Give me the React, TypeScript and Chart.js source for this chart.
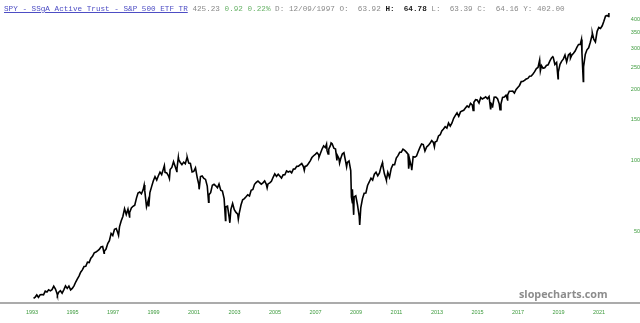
import React, { useEffect, useRef } from "react";
import { Chart, registerables } from "chart.js";

Chart.register(...registerables);

// Adjusted (total-return) SPY closes, one per month, Jan 1993 .. Jun 2021
const firstMonth = { year: 1993, month: 1 };
const monthlyClose: number[] = [
  25.8, 26.13, 26.68, 26.06, 26.71, 26.79, 26.7, 27.69, 27.47, 28.06, 27.77, 28.11,
  29.09, 28.27, 27.05, 27.42, 27.82, 27.14, 28.06, 29.18, 28.46, 29.12, 28.03, 28.44,
  29.18, 30.29, 31.18, 32.11, 33.34, 34.12, 35.27, 35.33, 36.81, 36.7, 38.28, 39.02,
  40.36, 40.7, 41.1, 41.72, 42.74, 42.91, 41.01, 41.86, 44.19, 45.43, 48.83, 47.86,
  50.87, 51.24, 49.12, 52.06, 55.19, 57.66, 62.25, 58.76, 61.96, 59.91, 62.65, 63.73,
  64.45, 69.06, 72.6, 73.33, 72.03, 74.94, 74.16, 63.41, 67.45, 72.94, 77.33, 81.78,
  85.21, 82.53, 85.82, 89.15, 87.0, 91.83, 88.97, 88.49, 86.04, 91.51, 93.33, 98.82,
  93.88, 92.07, 101.08, 98.05, 95.99, 98.37, 96.85, 102.82, 97.42, 97.03, 89.36, 89.78,
  92.99, 84.5, 79.16, 85.34, 85.86, 83.81, 82.99, 77.75, 71.48, 72.85, 78.42, 79.09,
  77.96, 76.45, 79.37, 74.59, 74.01, 68.74, 63.39, 63.8, 56.85, 61.85, 65.47, 61.6,
  59.99, 59.05, 59.62, 64.54, 67.91, 68.78, 69.98, 71.33, 70.58, 74.55, 75.18, 79.1,
  80.58, 81.67, 80.44, 79.2, 80.27, 81.81, 79.11, 79.4, 80.25, 81.49, 84.74, 87.61,
  85.53, 87.27, 85.74, 84.14, 86.79, 86.91, 90.16, 89.28, 90.03, 88.57, 91.83, 91.88,
  94.35, 94.53, 95.71, 97.01, 94.15, 94.29, 94.91, 97.06, 99.59, 102.86, 104.71, 106.17,
  107.82, 105.64, 106.85, 111.64, 115.45, 113.57, 110.09, 111.68, 115.85, 117.74, 112.73, 111.92,
  105.3, 101.84, 101.45, 106.5, 107.86, 98.8, 98.03, 99.43, 90.59, 75.4, 69.89, 70.59,
  64.67, 57.66, 62.71, 68.72, 72.5, 72.64, 78.18, 80.94, 84.0, 82.48, 87.37, 89.09,
  85.92, 88.5, 93.84, 95.38, 87.69, 83.09, 88.94, 84.85, 92.41, 95.97, 95.89, 102.29,
  104.79, 108.31, 108.38, 111.66, 110.33, 108.5, 106.36, 100.47, 93.42, 103.66, 103.3, 104.36,
  109.1, 113.72, 117.5, 116.82, 109.69, 114.23, 115.87, 118.37, 121.45, 119.26, 119.8, 120.86,
  127.16, 128.77, 133.62, 136.24, 139.29, 137.43, 144.45, 140.16, 144.55, 151.24, 155.73, 159.65,
  154.19, 161.09, 162.44, 163.69, 167.39, 170.83, 168.51, 175.12, 172.65, 176.93, 181.54, 181.04,
  175.72, 185.68, 182.76, 184.61, 186.87, 183.24, 187.17, 175.76, 171.38, 185.92, 186.32, 183.36,
  174.35, 173.92, 185.7, 186.52, 189.69, 190.2, 197.3, 197.39, 197.47, 193.95, 200.92, 204.9,
  208.88, 216.98, 217.21, 219.51, 222.39, 223.8, 228.48, 228.95, 233.7, 239.24, 246.33, 249.13,
  263.55, 253.69, 247.27, 248.34, 254.11, 255.75, 265.35, 273.82, 275.43, 256.72, 261.72, 238.08,
  257.19, 265.25, 270.4, 281.47, 263.35, 281.94, 286.06, 281.3, 286.57, 292.85, 303.3, 312.42,
  312.33, 286.44, 250.94, 283.14, 296.36, 302.22, 319.29, 342.12, 329.14, 320.46, 355.39, 369.07,
  365.37, 375.29, 391.65, 412.64, 415.32, 425.23,
];

// Intra-month highs and lows visible on the chart
const swingDates: string[] = [
  "1994-04-04", "1996-07-24", "1997-04-11", "1997-10-27", "1998-07-17", "1998-10-08",
  "1999-07-16", "1999-10-15", "2000-02-25", "2000-03-24", "2000-09-01", "2001-04-04",
  "2001-09-21", "2002-07-23", "2002-10-09", "2003-03-11", "2004-08-12", "2006-06-13",
  "2007-03-05", "2007-07-19", "2007-08-16", "2007-10-09", "2008-01-22", "2008-03-10",
  "2008-07-15", "2008-10-10", "2008-10-27", "2008-11-20", "2009-03-09", "2010-04-23",
  "2010-07-02", "2011-08-08", "2011-10-03", "2012-11-15", "2014-10-15", "2015-08-24",
  "2015-09-28", "2016-02-11", "2016-06-27", "2018-01-26", "2018-02-08", "2018-09-20",
  "2018-12-24", "2019-08-05", "2020-02-19", "2020-03-23", "2020-09-02", "2021-06-18",
];
const swingValues: number[] = [
  26.66, 40.18, 47.91, 57.44, 78.53, 63.64,
  94.97, 83.7, 89.8, 103.0, 103.0, 75.31,
  66.3, 55.44, 54.19, 56.24, 76.39, 90.77,
  103.2, 117.4, 106.5, 118.83, 100.0, 97.5,
  93.87, 69.9, 66.0, 58.6, 53.09, 97.77,
  82.45, 92.18, 90.78, 114.38, 163.2, 166.31,
  167.9, 164.49, 181.25, 268.04, 240.99, 276.9,
  223.17, 273.3, 328.12, 217.1, 350.02, 411.6,
];

const yTickValues = [50, 100, 150, 200, 250, 300, 350, 400];
const xTickYears = [1993, 1995, 1997, 1999, 2001, 2003, 2005, 2007, 2009, 2011, 2013, 2015, 2017, 2019, 2021];

const headerParts: { text: string; color: string; bold?: boolean; underline?: boolean }[] = [
  { text: "SPY - SSgA Active Trust - S&P 500 ETF TR", color: "#4d4dc4", underline: true },
  { text: " 425.23 ", color: "#8a8a8a" },
  { text: "0.92 0.22%", color: "#6ab46a" },
  { text: " D: 12/09/1997 O:  63.92 ", color: "#8a8a8a" },
  { text: "H:  64.78", color: "#1a1a1a", bold: true },
  { text: " L:  63.39 C:  64.16 Y: 402.00", color: "#8a8a8a" },
];

function dateToYear(d: string): number {
  const [y, m, dd] = d.split("-").map(Number);
  const start = Date.UTC(y, 0, 1);
  const end = Date.UTC(y + 1, 0, 1);
  return y + (Date.UTC(y, m - 1, dd) - start) / (end - start);
}

function monthDate(i: number): string {
  const total = firstMonth.month - 1 + i;
  const y = firstMonth.year + Math.floor(total / 12);
  const m = (total % 12) + 1;
  const day = i === 0 ? 29 : 28;
  return `${y}-${String(m).padStart(2, "0")}-${day}`;
}

export default function App() {
  const canvasRef = useRef<HTMLCanvasElement | null>(null);

  useEffect(() => {
    document.body.style.margin = "0";
    const canvas = canvasRef.current;
    if (!canvas) return;

    const points = [
      ...monthlyClose.map((v, i) => ({ x: dateToYear(monthDate(i)), y: v })),
      ...swingDates.map((d, i) => ({ x: dateToYear(d), y: swingValues[i] })),
    ].sort((a, b) => a.x - b.x);

    const axisLinePlugin = {
      id: "axisLineExtend",
      afterDraw(chart: any) {
        const { ctx, chartArea } = chart;
        ctx.save();
        ctx.strokeStyle = "#ababab";
        ctx.lineWidth = 2;
        ctx.beginPath();
        ctx.moveTo(chartArea.right, chartArea.bottom);
        ctx.lineTo(chart.width, chartArea.bottom);
        ctx.stroke();
        ctx.restore();
      },
    };

    const tickFont = { size: 5.5, family: "'Liberation Sans', Arial, sans-serif" };

    const chart = new Chart(canvas, {
      type: "line",
      data: {
        datasets: [
          {
            data: points,
            borderColor: "#000000",
            borderWidth: 1.6,
            pointRadius: 0,
            tension: 0,
            fill: false,
          },
        ],
      },
      options: {
        animation: false,
        responsive: false,
        maintainAspectRatio: false,
        layout: { padding: 0 },
        plugins: {
          legend: { display: false },
          tooltip: { enabled: false },
          title: { display: false },
        },
        scales: {
          x: {
            type: "linear",
            position: "bottom",
            min: 1991.42,
            max: 2021.79,
            grid: { display: false, drawTicks: false },
            border: { display: true, color: "#ababab", width: 2 },
            ticks: {
              color: "#3d9b3d",
              font: tickFont,
              padding: 6,
              maxRotation: 0,
              autoSkip: false,
              callback: (v: any) => String(v),
            },
            afterBuildTicks: (s: any) => {
              s.ticks = xTickYears.map((v) => ({ value: v }));
            },
            afterFit: (s: any) => {
              s.height = 20;
              s.paddingLeft = 0;
              s.paddingRight = 0;
            },
          },
          y: {
            type: "logarithmic",
            position: "right",
            min: 24.65,
            max: 483.5,
            grid: { display: false, drawTicks: false },
            border: { display: false },
            ticks: {
              color: "#3d9b3d",
              font: tickFont,
              padding: 9,
              crossAlign: "far",
              autoSkip: false,
              callback: (v: any) => String(v),
            },
            afterBuildTicks: (s: any) => {
              s.ticks = yTickValues.map((v) => ({ value: v }));
            },
            afterFit: (s: any) => {
              s.width = 25;
              s.paddingTop = 0;
              s.paddingBottom = 0;
            },
          },
        },
      },
      plugins: [axisLinePlugin],
    } as any);

    return () => chart.destroy();
  }, []);

  return (
    <div style={{ position: "relative", width: 640, height: 323, background: "#ffffff", overflow: "hidden" }}>
      <canvas ref={canvasRef} width={640} height={323} style={{ display: "block" }} />
      <div
        style={{
          position: "absolute",
          left: 4,
          top: 3,
          fontFamily: "'Liberation Mono', 'Courier New', monospace",
          fontSize: "7.67px",
          lineHeight: "12px",
          whiteSpace: "pre",
        }}
      >
        {headerParts.map((p, i) => (
          <span
            key={i}
            style={{
              color: p.color,
              fontWeight: p.bold ? "bold" : "normal",
              textDecoration: p.underline ? "underline" : "none",
            }}
          >
            {p.text}
          </span>
        ))}
      </div>
      <div
        style={{
          position: "absolute",
          left: 519,
          top: 288,
          fontFamily: "'Open Sans', sans-serif",
          fontWeight: 700,
          fontSize: "10.8px",
          lineHeight: "12px",
          color: "#8c8c8c",
          whiteSpace: "pre",
        }}
      >
        slopecharts.com
      </div>
    </div>
  );
}
